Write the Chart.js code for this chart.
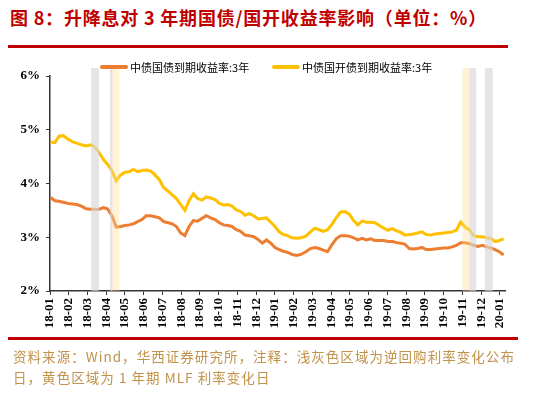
<!DOCTYPE html>
<html>
<head>
<meta charset="utf-8">
<script src="https://cdn.jsdelivr.net/npm/chart.js@4.4.1/dist/chart.umd.min.js"></script>
<style>
  html, body { margin: 0; padding: 0; background: #fff; }
  body { width: 550px; height: 397px; position: relative; overflow: hidden; }
  #title { position: absolute; left: 10px; top: 5px; font-family: "Noto Sans CJK SC", sans-serif; font-weight: 700; font-size: 18px; line-height: 24px; color: #C00000; white-space: nowrap; letter-spacing: 0.8px; }
  .redline { position: absolute; left: 8px; height: 3px; background: #C00000; }
  #chartBox { position: absolute; left: 0; top: 50px; width: 520px; height: 290px; }
  .leg { position: absolute; top: 60px; font-family: "Noto Sans CJK SC", sans-serif; font-size: 11px; line-height: 14px; color: #000; white-space: nowrap; }
  .legline { position: absolute; top: 65px; height: 4px; border-radius: 2px; width: 28px; }
  #source { position: absolute; left: 13px; top: 346px; font-family: "Noto Sans CJK SC", sans-serif; font-size: 13.5px; line-height: 21px; color: #C0924A; white-space: nowrap; letter-spacing: 1.05px; }
</style>
</head>
<body>
<div id="title">图 8：升降息对 3 年期国债/国开收益率影响（单位：%）</div>
<div class="redline" style="top:45px;width:500px;"></div>
<div id="chartBox"><canvas id="c"></canvas></div>
<div class="legline" style="left:100px;background:#ED7D31;"></div>
<div class="leg" id="leg1" style="left:130px;"></div>
<div class="legline" style="left:272px;background:#FFC000;"></div>
<div class="leg" id="leg2" style="left:302px;"></div>
<div class="redline" style="top:337px;width:510px;"></div>
<div id="source">资料来源：Wind，华西证券研究所，注释：浅灰色区域为逆回购利率变化公布<br>日，黄色区域为 1 年期 MLF 利率变化日</div>
<script>
// ---- data ----
const seriesNames = ["中债国债到期收益率:3年", "中债国开债到期收益率:3年"];

const dates = [
  "2018-01-02","2018-01-09","2018-01-16","2018-01-23","2018-01-30",
  "2018-02-06","2018-02-13","2018-02-20","2018-02-27",
  "2018-03-06","2018-03-13","2018-03-20","2018-03-27",
  "2018-04-03","2018-04-10","2018-04-17","2018-04-24",
  "2018-05-01","2018-05-08","2018-05-15","2018-05-22","2018-05-29",
  "2018-06-05","2018-06-12","2018-06-19","2018-06-26",
  "2018-07-03","2018-07-10","2018-07-17","2018-07-24","2018-07-31",
  "2018-08-07","2018-08-14","2018-08-21","2018-08-28",
  "2018-09-04","2018-09-11","2018-09-18","2018-09-25",
  "2018-10-02","2018-10-09","2018-10-16","2018-10-23","2018-10-30",
  "2018-11-06","2018-11-13","2018-11-20","2018-11-27",
  "2018-12-04","2018-12-11","2018-12-18","2018-12-25",
  "2019-01-01","2019-01-08","2019-01-15","2019-01-22","2019-01-29",
  "2019-02-05","2019-02-12","2019-02-19","2019-02-26",
  "2019-03-05","2019-03-12","2019-03-19","2019-03-26",
  "2019-04-02","2019-04-09","2019-04-16","2019-04-23","2019-04-30",
  "2019-05-07","2019-05-14","2019-05-21","2019-05-28",
  "2019-06-04","2019-06-11","2019-06-18","2019-06-25",
  "2019-07-02","2019-07-09","2019-07-16","2019-07-23","2019-07-30",
  "2019-08-06","2019-08-13","2019-08-20","2019-08-27",
  "2019-09-03","2019-09-10","2019-09-17","2019-09-24",
  "2019-10-01","2019-10-08","2019-10-15","2019-10-22","2019-10-29",
  "2019-11-05","2019-11-12","2019-11-19","2019-11-26",
  "2019-12-03","2019-12-10","2019-12-17","2019-12-24","2019-12-31",
  "2020-01-07"
];

const govYield = [
  3.74,3.68,3.67,3.65,3.63, 3.62,3.61,3.58,3.53, 3.52,3.52,3.52,3.55,
  3.53,3.40,3.19,3.20, 3.22,3.23,3.25,3.29,3.33, 3.40,3.40,3.38,3.36,
  3.29,3.27,3.25,3.20,3.08, 3.03,3.20,3.31,3.30, 3.35,3.40,3.36,3.33,
  3.27,3.23,3.22,3.20,3.14, 3.11,3.04,3.03,3.01, 2.96,2.89,2.95,2.89,
  2.81,2.77,2.74,2.72,2.68, 2.66,2.68,2.73,2.79, 2.81,2.79,2.76,2.73,
  2.86,2.97,3.03,3.03,3.02, 2.99,2.95,2.98,2.95, 2.97,2.94,2.94,2.94,
  2.92,2.92,2.90,2.89,2.87, 2.79,2.78,2.79,2.81, 2.77,2.77,2.78,2.79,
  2.80,2.80,2.82,2.85,2.90, 2.90,2.88,2.85,2.83, 2.85,2.82,2.80,2.77,2.73,
  2.67
];

const cdbYield = [
  4.77,4.76,4.88,4.89,4.83, 4.78,4.75,4.72,4.70, 4.72,4.68,4.58,4.45,
  4.36,4.24,4.05,4.16, 4.21,4.22,4.26,4.22,4.24, 4.25,4.23,4.16,4.07,
  3.92,3.86,3.79,3.72,3.61, 3.50,3.68,3.81,3.72, 3.69,3.75,3.73,3.70,
  3.63,3.60,3.61,3.58,3.51, 3.48,3.41,3.44,3.40, 3.34,3.35,3.36,3.28,
  3.20,3.10,3.05,3.03,2.99, 2.98,2.99,3.02,3.10, 3.17,3.14,3.11,3.14,
  3.24,3.36,3.47,3.48,3.43, 3.31,3.23,3.30,3.28, 3.28,3.27,3.22,3.17,
  3.13,3.16,3.12,3.09,3.04, 3.05,3.06,3.08,3.10, 3.05,3.04,3.06,3.07,
  3.08,3.09,3.10,3.13,3.28, 3.19,3.14,3.03,3.01, 3.01,2.99,2.98,2.92,2.94,
  2.97
];

const tickLabels = [
  "18-01","18-02","18-03","18-04","18-05","18-06","18-07","18-08","18-09","18-10","18-11","18-12",
  "19-01","19-02","19-03","19-04","19-05","19-06","19-07","19-08","19-09","19-10","19-11","19-12",
  "20-01"
];
const yTicks = [2, 3, 4, 5, 6];

// shaded event windows [start, end]
const grayBands = [
  ["2018-03-07","2018-03-20"],
  ["2018-04-07","2018-04-11"],
  ["2019-11-12","2019-11-23"],
  ["2019-12-07","2019-12-20"]
];
const yellowBands = [
  ["2018-04-11","2018-04-22"],
  ["2019-11-01","2019-11-12"]
];

// ---- helpers ----
function toMonths(s) {
  const [y, m, d] = s.split("-").map(Number);
  const dim = new Date(y, m, 0).getDate();
  return (y - 2018) * 12 + (m - 1) + (d - 1) / dim;
}
const xs = dates.map(toMonths);

document.getElementById("leg1").textContent = seriesNames[0];
document.getElementById("leg2").textContent = seriesNames[1];

const bandPlugin = {
  id: "bands",
  afterDatasetsDraw(chart) {
    const { ctx, scales: { x, y } } = chart;
    const top = y.getPixelForValue(yTicks[yTicks.length - 1]) - 8;
    const bottom = y.getPixelForValue(yTicks[0]);
    ctx.save();
    const draw = (bands, color) => {
      ctx.fillStyle = color;
      bands.forEach(([a, b]) => {
        const x1 = x.getPixelForValue(toMonths(a));
        const x2 = x.getPixelForValue(toMonths(b));
        ctx.fillRect(x1, top, x2 - x1, bottom - top);
      });
    };
    draw(grayBands, "rgba(215,215,215,0.65)");
    draw(yellowBands, "rgba(255,222,140,0.36)");
    ctx.restore();
  }
};

const tickFont = { family: "'Liberation Serif', 'Times New Roman', serif", size: 13, weight: "bold" };

new Chart(document.getElementById("c"), {
  type: "line",
  data: {
    datasets: [
      { label: seriesNames[0], data: xs.map((v, i) => ({ x: v, y: govYield[i] })), borderColor: "#ED7D31", backgroundColor: "#ED7D31", borderWidth: 3, pointRadius: 0, tension: 0 },
      { label: seriesNames[1], data: xs.map((v, i) => ({ x: v, y: cdbYield[i] })), borderColor: "#FFC000", backgroundColor: "#FFC000", borderWidth: 3, pointRadius: 0, tension: 0 }
    ]
  },
  options: {
    responsive: true,
    maintainAspectRatio: false,
    animation: false,
    devicePixelRatio: 1,
    layout: { padding: { top: 26, right: 15, left: 0, bottom: 0 } },
    plugins: { legend: { display: false }, tooltip: { enabled: false } },
    scales: {
      x: {
        type: "linear",
        min: 0,
        max: 24.27,
        afterBuildTicks: s => { s.ticks = tickLabels.map((_, i) => ({ value: i })); },
        afterFit: s => { s.height = 49; },
        ticks: { callback: v => tickLabels[v], minRotation: 90, maxRotation: 90, autoSkip: false, color: "#000", font: tickFont, padding: 3 },
        grid: { display: true, drawOnChartArea: false, drawTicks: true, tickLength: 4, color: "#333" },
        border: { display: true, color: "#333", width: 1.5 }
      },
      y: {
        min: 2,
        max: 6,
        afterBuildTicks: s => { s.ticks = yTicks.map(v => ({ value: v })); },
        afterFit: s => { s.width = 50; },
        ticks: { callback: v => v + "%", color: "#000", font: tickFont, padding: 6 },
        grid: { display: true, drawOnChartArea: false, drawTicks: true, tickLength: 4, color: "#333" },
        border: { display: true, color: "#333", width: 1.5 }
      }
    }
  },
  plugins: [bandPlugin]
});
</script>
</body>
</html>
